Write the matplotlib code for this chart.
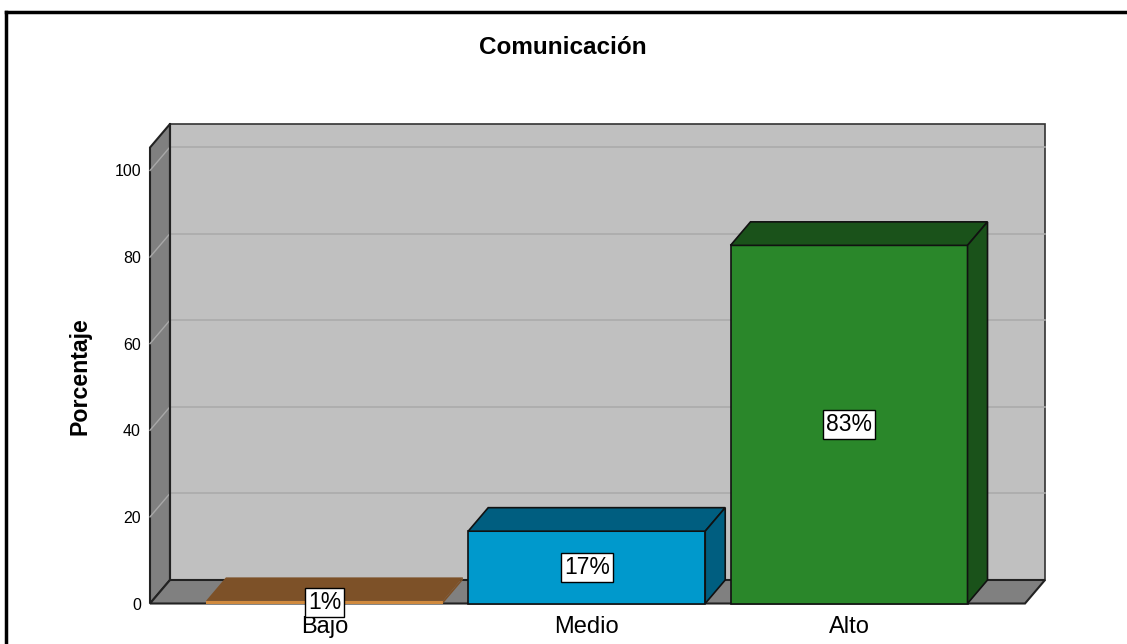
import matplotlib
matplotlib.use("Agg")
from matplotlib import pyplot as plt
from matplotlib.lines import Line2D

categories = ["Bajo", "Medio", "Alto"]
values = [0.6, 16.7, 82.7]
yticks = [0, 20, 40, 60, 80, 100]

front_colors = ["#D08A3E", "#0099CC", "#2A872A"]
dark_colors = ["#7D5128", "#005E80", "#1A521A"]
edge_colors = ["none", "#111111", "#111111"]

plt.rcParams["font.family"] = ["Liberation Sans", "DejaVu Sans"]

# geometry in data units
x0, x1 = -0.665, 2.671   # front plane x range
dx, dy = 0.0762, 5.43    # depth offset
H = 105.3                # wall height
w = 0.9036               # bar width

fig = plt.figure(figsize=(11.27, 6.44), dpi=100)
W, Hpx = 1127, 644
ax = fig.add_axes([150 / W, (644 - 603.5) / Hpx, 895 / W, 479.5 / Hpx])
ax.set_xlim(x0, x1 + dx)
ax.set_ylim(0, H + dy)

# walls
ax.fill([x0 + dx, x1 + dx, x1 + dx, x0 + dx], [dy, dy, H + dy, H + dy],
        facecolor="#C0C0C0", edgecolor="#333333", linewidth=1.2, clip_on=False, zorder=1)
ax.fill([x0, x0 + dx, x0 + dx, x0], [0, dy, H + dy, H],
        facecolor="#808080", edgecolor="#222222", linewidth=1.5, clip_on=False, zorder=2)
ax.fill([x0, x1, x1 + dx, x0 + dx], [0, 0, dy, dy],
        facecolor="#808080", edgecolor="#222222", linewidth=1.5, clip_on=False, zorder=2)

# gridlines
for v in yticks[1:]:
    ax.plot([x0 + dx, x1 + dx], [v + dy, v + dy], color="#ABABAB", lw=1.2, zorder=1.5, clip_on=False)
    ax.plot([x0, x0 + dx], [v, v + dy], color="#A8A8A8", lw=1.0, zorder=2.5, clip_on=False)
ax.plot([x0 + dx, x0 + dx], [dy, H + dy], color="#222222", lw=1.5, zorder=2.6, clip_on=False)

# bars
for i, (cat, v) in enumerate(zip(categories, values)):
    l, r = i - w / 2, i + w / 2
    ec = edge_colors[i]
    lw = 1.2 if ec != "none" else 0
    ax.fill([l, r, r, l], [0, 0, v, v], facecolor=front_colors[i], edgecolor=ec,
            linewidth=lw, zorder=5, clip_on=False)
    ax.fill([l, r, r + dx, l + dx], [v, v, v + dy, v + dy], facecolor=dark_colors[i],
            edgecolor=ec, linewidth=lw, zorder=5, clip_on=False)
    ax.fill([r, r + dx, r + dx, r], [0, dy, v + dy, v], facecolor=dark_colors[i],
            edgecolor=ec, linewidth=lw, zorder=5, clip_on=False)
    ax.text(i, v / 2, f"{round(v)}%", ha="center", va="center", fontsize=16.5, zorder=8,
            bbox=dict(boxstyle="square,pad=0.13", facecolor="white", edgecolor="black", linewidth=1))

ax.set_yticks(yticks)
ax.set_yticklabels([str(t) for t in yticks], fontsize=11.5)
ax.set_xticks(range(len(categories)))
ax.set_xticklabels(categories, fontsize=17)
ax.tick_params(axis="y", length=0, pad=6.5)
ax.tick_params(axis="x", length=0, pad=9)
for s in ax.spines.values():
    s.set_visible(False)
ax.set_facecolor("none")

fig.text(563 / W, 1 - 47 / Hpx, "Comunicación", ha="center", va="center",
         fontsize=17.5, fontweight="bold")
fig.text(80 / W, 1 - 376 / Hpx, "Porcentaje", ha="center", va="center",
         rotation=90, fontsize=16.7, fontweight="bold")

# outer frame
fig.add_artist(Line2D([6 / W, 6 / W], [-0.1, 1 - 12 / Hpx], color="black", lw=2.5))
fig.add_artist(Line2D([6 / W, 1.1], [1 - 12 / Hpx, 1 - 12 / Hpx], color="black", lw=2.5))

fig.savefig("out.png", dpi=100)
